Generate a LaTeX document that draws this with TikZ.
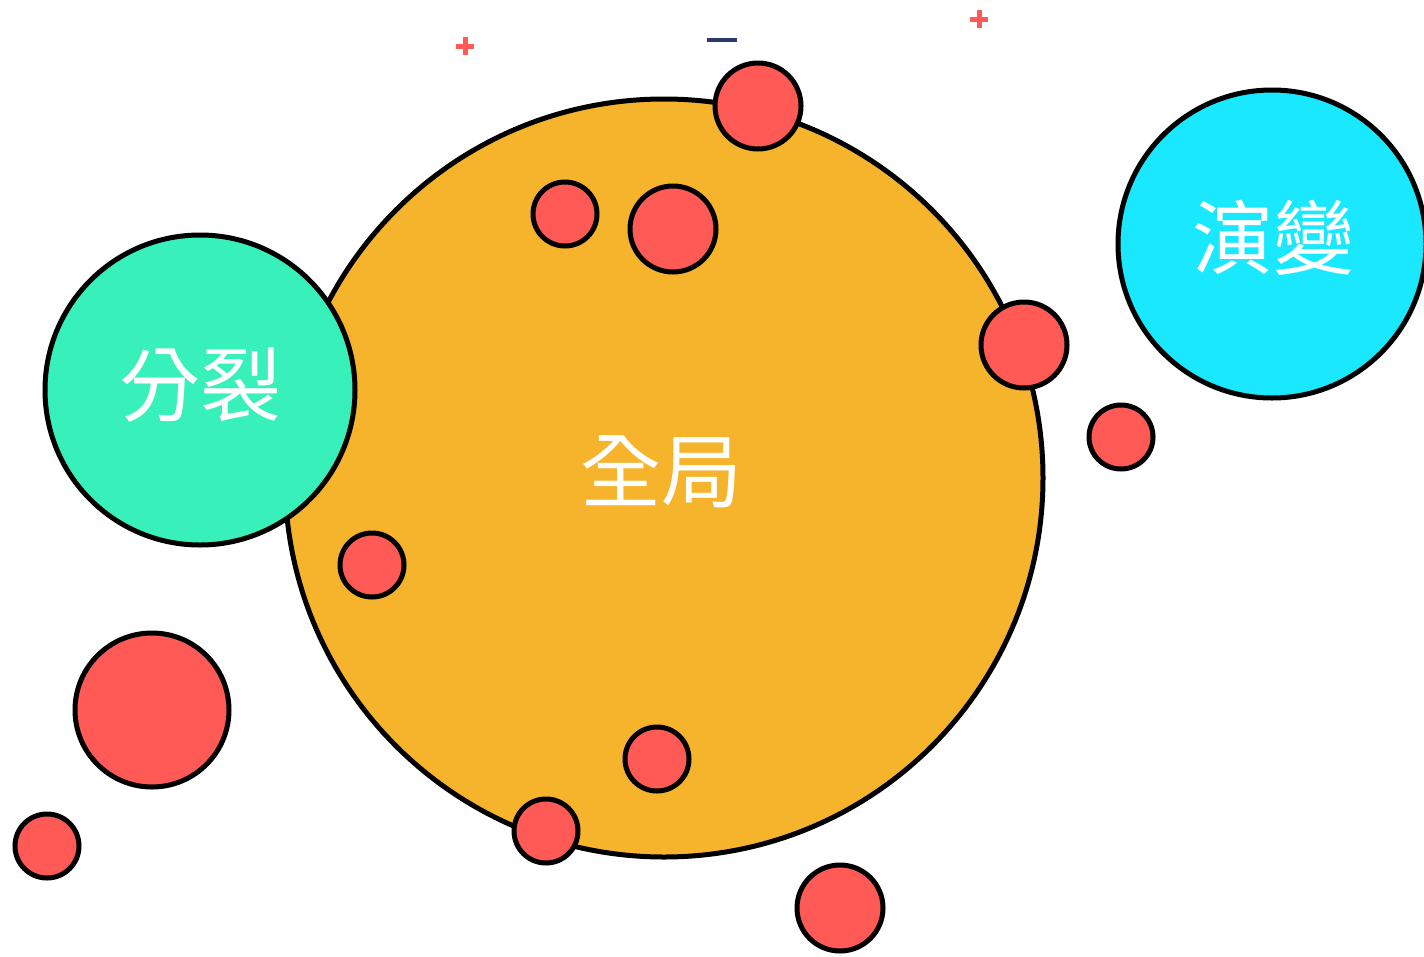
\documentclass[tikz,border=0pt]{standalone}
\usepackage{fontspec}
\newfontfamily\cjk{Noto Sans CJK TC}
\definecolor{orangefill}{HTML}{F6B42D}
\definecolor{greenfill}{HTML}{38F0BA}
\definecolor{cyanfill}{HTML}{1AE8FF}
\definecolor{redfill}{HTML}{FF5A55}
\definecolor{navy}{HTML}{2B3A68}
\begin{document}
\begin{tikzpicture}[x=1pt,y=-1pt,
  bubble/.style={circle,draw=black,line width=5pt,inner sep=0pt,minimum size=#1},
  dot/.style={bubble=#1,fill=redfill},
  lbl/.style={text=white,font=\cjk\fontsize{81}{81}\selectfont},
  plusmark/.style={draw=redfill,line width=5pt}]
\useasboundingbox (0,0) rectangle (1424,956);
\node[bubble=758pt,fill=orangefill] (global) at (664,478) {};
\node[bubble=310pt,fill=greenfill] (split) at (200,390) {};
\node[bubble=308pt,fill=cyanfill] (evolve) at (1272,244) {};
\node[lbl] (tglobal) at (661,472) {全局};
\node[lbl] (tsplit) at (200,385) {分裂};
\node[lbl] (tevolve) at (1273,238) {演變};
\node[dot=86pt] (r1) at (758,106) {};
\node[dot=64pt] (r2) at (565,214) {};
\node[dot=86pt] (r3) at (673,229) {};
\node[dot=86pt] (r4) at (1024,345) {};
\node[dot=64pt] (r5) at (1121,437) {};
\node[dot=64pt] (r6) at (372,565) {};
\node[dot=154pt] (r7) at (152,710) {};
\node[dot=64pt] (r8) at (657,759) {};
\node[dot=64pt] (r9) at (546,831) {};
\node[dot=64pt] (r10) at (47,846) {};
\node[dot=86pt] (r11) at (840,908) {};
\coordinate (p1) at (465,46);
\coordinate (p2) at (979,19);
\coordinate (m1) at (722,40);
\draw[plusmark] ([xshift=-9pt]p1) -- ([xshift=9pt]p1) ([yshift=-9pt]p1) -- ([yshift=9pt]p1);
\draw[plusmark] ([xshift=-9pt]p2) -- ([xshift=9pt]p2) ([yshift=-9pt]p2) -- ([yshift=9pt]p2);
\draw[navy,line width=4pt] ([xshift=-15pt]m1) -- ([xshift=15pt]m1);
\end{tikzpicture}
\end{document}
